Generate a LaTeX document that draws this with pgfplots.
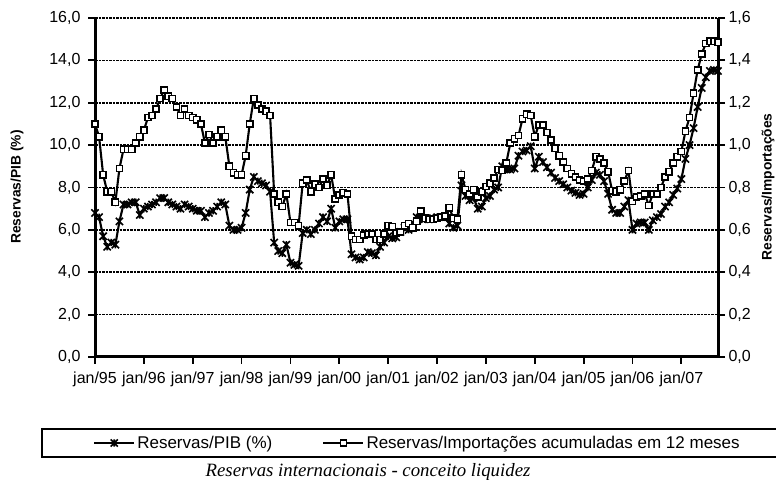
\documentclass[border=0pt]{standalone}
\usepackage{pgfplots}
\pgfplotsset{compat=1.18}
\usepackage{pgfplotstable}
\usepackage{fontspec}
\setmainfont{Liberation Sans}
\newfontfamily\serifit{Liberation Serif}
\pgfdeclareplotmark{xstar}{%
  \pgfpathmoveto{\pgfqpoint{-\pgfplotmarksize}{-\pgfplotmarksize}}%
  \pgfpathlineto{\pgfqpoint{\pgfplotmarksize}{\pgfplotmarksize}}%
  \pgfpathmoveto{\pgfqpoint{-\pgfplotmarksize}{\pgfplotmarksize}}%
  \pgfpathlineto{\pgfqpoint{\pgfplotmarksize}{-\pgfplotmarksize}}%
  \pgfpathmoveto{\pgfqpoint{0pt}{-\pgfplotmarksize}}%
  \pgfpathlineto{\pgfqpoint{0pt}{\pgfplotmarksize}}%
  \pgfusepathqstroke}

\pgfplotstableread{
m v
0 6.8
1 6.6
2 5.7
3 5.2
4 5.4
5 5.3
6 6.4
7 7.2
8 7.2
9 7.3
10 7.3
11 6.7
12 7.0
13 7.1
14 7.2
15 7.3
16 7.5
17 7.5
18 7.3
19 7.2
20 7.1
21 7.0
22 7.2
23 7.1
24 7.0
25 6.9
26 6.9
27 6.6
28 6.8
29 6.9
30 7.1
31 7.3
32 7.2
33 6.2
34 6.0
35 6.0
36 6.1
37 6.8
38 7.9
39 8.5
40 8.3
41 8.2
42 8.1
43 7.8
44 5.4
45 5.0
46 4.9
47 5.3
48 4.45
49 4.35
50 4.3
51 5.85
52 6.0
53 5.8
54 6.0
55 6.3
56 6.6
57 6.4
58 7.0
59 6.1
60 6.4
61 6.5
62 6.5
63 4.85
64 4.7
65 4.6
66 4.7
67 4.95
68 4.9
69 4.8
70 5.2
71 5.4
72 5.7
73 5.6
74 5.65
75 5.9
76 6.1
77 6.0
78 6.25
79 6.6
80 6.55
81 6.5
82 6.5
83 6.55
84 6.6
85 6.6
86 6.6
87 6.3
88 6.1
89 6.2
90 8.1
91 7.6
92 7.4
93 7.5
94 7.0
95 7.1
96 7.5
97 7.6
98 7.9
99 8.0
100 9.0
101 8.85
102 8.85
103 8.9
104 9.5
105 9.7
106 9.75
107 9.95
108 8.9
109 9.45
110 9.2
111 8.95
112 8.7
113 8.45
114 8.3
115 8.15
116 8.0
117 7.85
118 7.75
119 7.65
120 7.7
121 8.0
122 8.35
123 8.7
124 8.6
125 8.3
126 7.7
127 6.95
128 6.8
129 6.8
130 7.1
131 7.4
132 6.0
133 6.3
134 6.35
135 6.35
136 6.0
137 6.45
138 6.6
139 6.75
140 7.1
141 7.3
142 7.65
143 7.95
144 8.4
145 9.35
146 10.0
147 10.8
148 11.8
149 12.7
150 13.2
151 13.5
152 13.55
153 13.5
}\pib

\pgfplotstableread{
m v
0 1.10
1 1.04
2 0.86
3 0.78
4 0.78
5 0.73
6 0.89
7 0.98
8 0.98
9 0.98
10 1.01
11 1.04
12 1.07
13 1.13
14 1.14
15 1.17
16 1.22
17 1.26
18 1.23
19 1.22
20 1.18
21 1.14
22 1.17
23 1.14
24 1.13
25 1.12
26 1.10
27 1.01
28 1.05
29 1.01
30 1.04
31 1.07
32 1.04
33 0.90
34 0.87
35 0.86
36 0.86
37 0.95
38 1.10
39 1.22
40 1.19
41 1.17
42 1.16
43 1.14
44 0.77
45 0.73
46 0.71
47 0.77
48 0.635
49 0.635
50 0.62
51 0.82
52 0.835
53 0.78
54 0.815
55 0.80
56 0.84
57 0.81
58 0.86
59 0.745
60 0.765
61 0.775
62 0.77
63 0.57
64 0.555
65 0.555
66 0.575
67 0.58
68 0.58
69 0.555
70 0.555
71 0.58
72 0.62
73 0.615
74 0.585
75 0.59
76 0.62
77 0.63
78 0.61
79 0.64
80 0.69
81 0.655
82 0.65
83 0.65
84 0.655
85 0.66
86 0.665
87 0.705
88 0.655
89 0.65
90 0.86
91 0.79
92 0.77
93 0.79
94 0.755
95 0.78
96 0.805
97 0.82
98 0.845
99 0.885
100 0.88
101 0.915
102 1.01
103 1.03
104 1.045
105 1.125
106 1.145
107 1.14
108 1.04
109 1.095
110 1.095
111 1.06
112 1.025
113 0.985
114 0.95
115 0.92
116 0.89
117 0.865
118 0.85
119 0.835
120 0.83
121 0.84
122 0.88
123 0.945
124 0.935
125 0.915
126 0.875
127 0.785
128 0.78
129 0.79
130 0.83
131 0.88
132 0.735
133 0.755
134 0.76
135 0.77
136 0.715
137 0.77
138 0.77
139 0.80
140 0.85
141 0.875
142 0.915
143 0.945
144 0.97
145 1.065
146 1.13
147 1.245
148 1.355
149 1.43
150 1.48
151 1.49
152 1.49
153 1.485
}\imp

\begin{document}
\begin{tikzpicture}[x=1pt,y=1pt]
\useasboundingbox (0,0) rectangle (776,487);
\pgfplotsset{
  common/.style={
    at={(95pt,130pt)}, anchor=south west,
    scale only axis, width=623pt, height=339pt,
    xmin=0, xmax=153,
    tick align=outside, major tick length=7pt,
    every tick/.style={black, line width=1.8pt},
    axis line style={line width=3pt, -},
    tick label style={font=\fontsize{16}{19}\selectfont, text=black},
    /pgf/number format/.cd, fixed, fixed zerofill, precision=1, use comma, assume math mode=true,
  },
  serA/.style={black, line width=2.1pt, mark=xstar, mark size=3.6pt, mark options={line width=1.6pt}},
  serB/.style={black, line width=2.1pt, mark=square*, mark size=3.1pt, mark options={fill=white, line width=1.6pt}},
}
\begin{axis}[common,
  ymin=0, ymax=16,
  axis x line*=bottom, axis y line*=left,
  xtick={0,12,24,36,48,60,72,84,96,108,120,132,144},
  xticklabels={jan/95,jan/96,jan/97,jan/98,jan/99,jan/00,jan/01,jan/02,jan/03,jan/04,jan/05,jan/06,jan/07},
  xticklabel style={yshift=-4pt},
  yticklabel style={xshift=-4pt},
  ytick={0,2,4,6,8,10,12,14,16},
  ymajorgrids,
  major grid style={black, line width=1.7pt, dash pattern=on 2.5pt off 1pt},
]
\addplot[serA] table[x=m,y=v] {\pib};
\end{axis}
\begin{axis}[common,
  ymin=0, ymax=1.6,
  axis x line=none, axis y line*=right,
  ytick={0,0.2,0.4,0.6,0.8,1.0,1.2,1.4,1.6},
  legend columns=2,
  legend style={at={(-0.008,-0.2537)}, anchor=west, draw=none, fill=none,
    font=\fontsize{17}{20}\selectfont,
    /tikz/every even column/.append style={column sep=48pt}},
  legend image code/.code={\draw[mark repeat=2,mark phase=2,#1] plot coordinates {(0pt,0pt) (20pt,0pt) (40pt,0pt)};},
]
\addlegendimage{serA}
\addlegendentry{Reservas/PIB (\%)}
\addplot[serB] table[x=m,y=v] {\imp};
\addlegendentry{Reservas/Importações acumuladas em 12 meses}
\end{axis}
\node[rotate=90, font=\bfseries\fontsize{13.8}{16}\selectfont] at (17,300) {Reservas/PIB (\%)};
\node[rotate=90, font=\bfseries\fontsize{13.8}{16}\selectfont] at (768,300) {Reservas/Importações};
\draw[line width=2pt] (42,30) rectangle (800,58);
\node[font=\serifit\itshape\fontsize{18.8}{22}\selectfont] at (368,15) {Reservas internacionais - conceito liquidez};
\end{tikzpicture}
\end{document}
